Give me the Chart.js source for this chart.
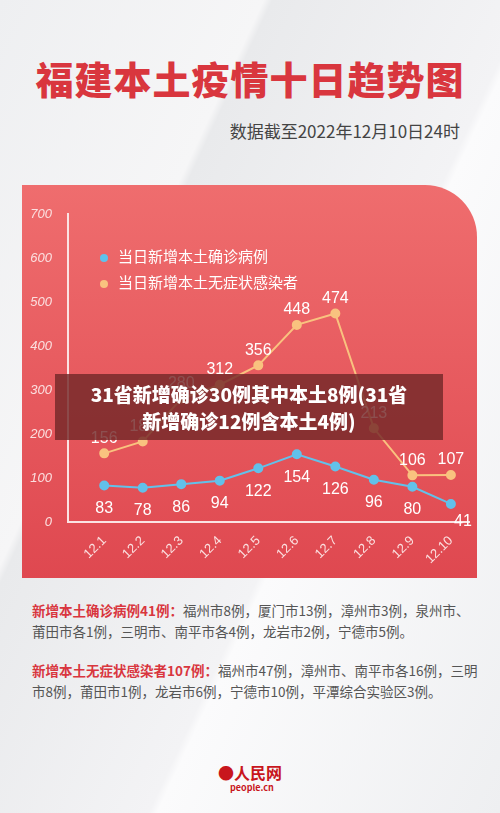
<!DOCTYPE html>
<html><head><meta charset="utf-8">
<script src="https://cdn.jsdelivr.net/npm/chart.js@4"></script>
<style>
body{margin:0;width:500px;height:813px;overflow:hidden;font-family:"Noto Sans CJK SC",sans-serif;
background:linear-gradient(115deg,#eeeff1 0%,#f6f6f7 30%,#e9eaec 31%,#f3f3f5 60%,#fbfbfc 61%,#eeeff1 100%);position:relative}
#title{position:absolute;left:0;width:500px;top:50px;text-align:center;font-size:38px;font-weight:900;color:#d9363e;letter-spacing:1px}
#sub{position:absolute;right:40px;top:118px;font-size:17px;color:#444}
#card{position:absolute;left:22px;top:185px;width:455px;height:393px;border-top-right-radius:52px;
background:linear-gradient(180deg,#ef6d6e,#df4850)}
#c{position:absolute;left:22px;top:185px}
.lg{position:absolute;left:100px;font-size:15px;color:#fff}
.lg span{display:inline-block;width:8px;height:8px;border-radius:50%;margin-right:10px;vertical-align:middle}
#banner{position:absolute;left:55px;top:374px;width:388px;height:66px;background:rgba(115,40,40,0.82);color:#fff;
font-weight:900;font-size:19px;text-align:center;line-height:27px;padding-top:6px;box-sizing:border-box}
.txt{position:absolute;left:32px;width:448px;font-size:13.5px;line-height:21px;color:#555}
.txt b{color:#d9363e}
#logo{position:absolute;left:218px;top:760px;font-size:16px;color:#c8161d;font-weight:bold}
#logo small{display:block;font-size:9px;color:#c8161d;margin-left:12px;line-height:8px}
</style></head><body>
<div id="title">福建本土疫情十日趋势图</div>
<div id="sub">数据截至2022年12月10日24时</div>
<div id="card"></div>
<canvas id="c" width="455" height="393" style="width:455px;height:393px"></canvas>
<div class="lg" style="top:245px"><span style="background:#5fc2ec"></span>当日新增本土确诊病例</div>
<div class="lg" style="top:271px"><span style="background:#f9c27f"></span>当日新增本土无症状感染者</div>
<div id="banner">31省新增确诊30例其中本土8例(31省<br>新增确诊12例含本土4例)</div>
<div class="txt" style="top:600px"><b>新增本土确诊病例41例：</b>福州市8例，厦门市13例，漳州市3例，泉州市、莆田市各1例，三明市、南平市各4例，龙岩市2例，宁德市5例。</div>
<div class="txt" style="top:660px"><b>新增本土无症状感染者107例：</b>福州市47例，漳州市、南平市各16例，三明市8例，莆田市1例，龙岩市6例，宁德市10例，平潭综合实验区3例。</div>
<div id="logo">●人民网<small>people.cn</small></div>
<script>
const dates=["12.1","12.2","12.3","12.4","12.5","12.6","12.7","12.8","12.9","12.10"];
const confirmed=[83,78,86,94,122,154,126,96,80,41];
const asymptomatic=[156,183,280,312,356,448,474,213,106,107];
const toPts=a=>a.map((v,i)=>({x:i,y:v}));
const labelPlugin={id:'lbl',afterDatasetsDraw(ch){
 const c=ch.ctx;c.save();c.fillStyle='#fff';c.font='16px "Liberation Sans", Arial';c.textAlign='center';
 ch.data.datasets.forEach((ds,di)=>{ch.getDatasetMeta(di).data.forEach((p,i)=>{
  const v=ds.data[i].y; let dx=0,dy=di===1?-15:23;
  if(di===0&&i===9){dx=12;dy=18}
  c.textBaseline='middle';c.fillText(v,p.x+dx,p.y+dy);});});
 c.restore();}};
new Chart(document.getElementById('c'),{type:'line',
 data:{datasets:[
  {data:toPts(confirmed),borderColor:'#62c1ea',backgroundColor:'#62c1ea',borderWidth:2,pointRadius:4,tension:0},
  {data:toPts(asymptomatic),borderColor:'#f9c27f',backgroundColor:'#f9c27f',borderWidth:2,pointRadius:4,tension:0}]},
 options:{responsive:false,animation:false,plugins:{legend:{display:false},tooltip:{enabled:false}},
  layout:{padding:{top:29,right:8,left:0,bottom:0}},
  scales:{
   x:{type:'linear',min:-0.94,max:9.47,grid:{display:false,drawTicks:true},border:{color:'#fbe3e3',width:2},
     afterBuildTicks:s=>{s.ticks=dates.map((d,i)=>({value:i}));},
     afterFit:s=>{s.height=56},
     ticks:{color:'#fbe0e0',font:{size:13,family:'Liberation Sans'},maxRotation:45,minRotation:45,callback:(v,i)=>dates[i]}},
   y:{min:0,max:700,grid:{display:false},border:{color:'#fbe3e3',width:2},
     afterFit:s=>{s.width=46},
     ticks:{stepSize:100,color:'#fbe0e0',font:{size:13,style:'italic',family:'Liberation Sans'},padding:8}}}},
 plugins:[labelPlugin]});
</script></body></html>
